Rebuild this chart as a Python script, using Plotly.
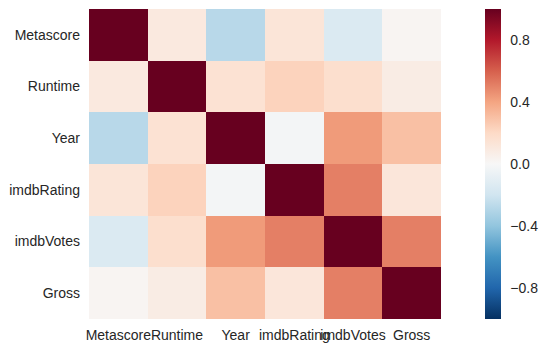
import plotly.graph_objects as go

labels = ["Metascore", "Runtime", "Year", "imdbRating", "imdbVotes", "Gross"]

row_metascore = [1.00, 0.10, -0.28, 0.13, -0.15, 0.02]
row_runtime = [0.10, 1.00, 0.15, 0.23, 0.17, 0.08]
row_year = [-0.28, 0.15, 1.00, -0.02, 0.43, 0.30]
row_imdbrating = [0.13, 0.23, -0.02, 1.00, 0.51, 0.12]
row_imdbvotes = [-0.15, 0.17, 0.43, 0.51, 1.00, 0.51]
row_gross = [0.02, 0.08, 0.30, 0.12, 0.51, 1.00]

z = [row_metascore, row_runtime, row_year, row_imdbrating, row_imdbvotes, row_gross]

rdbu_r = ["#053061", "#2166ac", "#4393c3", "#92c5de", "#d1e5f0", "#f7f7f7",
          "#fddbc7", "#f4a582", "#d6604d", "#b2182b", "#67001f"]
colorscale = [[i / 10, c] for i, c in enumerate(rdbu_r)]

text_color = "#262626"
font = dict(family="Liberation Sans, Arial, sans-serif", size=14, color=text_color)

fig = go.Figure(go.Heatmap(
    z=z, x=labels, y=labels,
    colorscale=colorscale, zmin=-1, zmax=1,
    xgap=0, ygap=0,
    colorbar=dict(
        x=(485 - 86) / 354.7, xanchor="left", xpad=0,
        y=0.5, yanchor="middle", ypad=0,
        len=1, lenmode="fraction",
        thickness=16, outlinewidth=0,
        tick0=0, dtick=0.4, tickmode="linear", tickformat=".1f",
        ticks="outside", ticklen=7, tickcolor="rgba(0,0,0,0)",
        tickfont=font,
    ),
))

fig.update_layout(
    width=548, height=353,
    margin=dict(l=86, r=107, t=9, b=34, pad=0),
    paper_bgcolor="white", plot_bgcolor="white",
    font=font,
)
fig.update_xaxes(tickangle=0, showgrid=False, zeroline=False, showline=False,
                 ticks="", ticklabelstandoff=6, tickfont=font)
fig.update_yaxes(autorange="reversed", showgrid=False, zeroline=False, showline=False,
                 ticks="", ticklabelstandoff=8, tickfont=font)

fig.write_html("out.html")
